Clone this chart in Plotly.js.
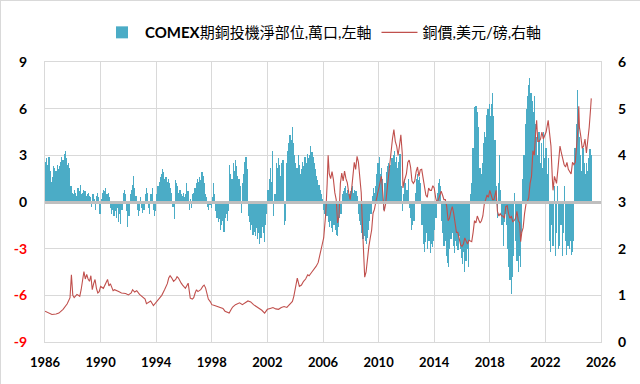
<!DOCTYPE html>
<html>
<head>
<meta charset="utf-8">
<script src="https://cdn.plot.ly/plotly-3.0.1.min.js"></script>
<style>
  html, body { margin: 0; padding: 0; background: #fff; }
  #chart { width: 640px; height: 384px; box-sizing: border-box; border: 1px solid #d9d9d9; }
</style>
</head>
<body>
<div id="chart"></div>
<script>
// COMEX copper speculative net position (10k contracts), monthly from Jan 1986
const startYear = 1986;
const netPosition = [
  2.6, 2.8, 2.4, 2.9, 2.0, 1.3, 1.6, 2.3, 2.2, 2.0, 2.4, 2.1,      // 1986
  2.3, 2.6, 2.9, 2.7, 3.1, 3.3, 2.8, 2.4, 2.5, 2.2, 1.0, 0.6,      // 1987
  0.5, 0.8, 0.6, 0.4, 0.9, 0.7, 1.1, 0.5, 0.6, 0.8, 0.7, 0.4,      // 1988
  0.5, 0.6, 0.4, 0.3, -0.3, 0.5, 0.2, -0.5, 0.4, 0.6, 0.3, -0.8,   // 1989
  0.2, 0.6, 0.8, 0.7, 0.9, 0.5, 0.6, 0.3, -0.4, -0.8, -0.5, -0.9,  // 1990
  -0.6, -1.0, -0.4, -1.3, -0.8, -1.4, -0.5, 0.6, 0.8, 0.5, -0.6, -1.6, // 1991
  -0.9, 0.5, 0.8, 1.1, 1.7, 0.9, 0.4, -0.5, -0.9, -0.6, 0.3, -0.4, // 1992
  -0.7, -0.5, 0.5, 0.9, 0.6, -0.4, -0.8, 0.5, 0.9, -0.5, -0.9, -0.6, // 1993
  0.5, 1.0, 1.3, 1.6, 1.8, 2.1, 1.9, 1.5, 1.6, 1.3, 1.5, 1.2,      // 1994
  0.9, 0.6, -0.3, -1.1, 1.4, 1.2, 1.0, 0.6, 0.8, 0.5, 0.4, 0.6,    // 1995
  0.3, 0.5, 1.2, 0.7, -0.5, 0.2, -0.4, 0.5, 0.6, 0.9, 1.2, 1.5,    // 1996
  1.3, 1.6, 1.4, 1.9, 1.7, 1.2, 0.5, 0.3, -0.3, -0.5, -0.2, -0.4,  // 1997
  0.3, 1.2, 0.5, -0.6, -1.0, -1.3, -1.1, -1.8, -1.5, -1.2, -1.9, -1.0, // 1998
  -0.8, -1.2, -0.6, 2.4, 1.8, 1.5, 2.5, 2.0, 2.7, 2.3, 1.7, 1.5,   // 1999
  1.0, -0.7, 1.2, 1.8, 2.6, 2.9, 2.1, -0.9, -1.3, -1.8, -1.5, -2.1, // 2000
  -1.9, -2.2, -1.7, -2.4, -2.0, -2.7, -2.3, -1.6, -2.0, -2.6, -1.5, -0.8, // 2001
  0.8, 1.5, 2.2, 1.3, 3.3, -0.9, 0.5, 2.5, 2.2, 2.8, 2.4, 1.7,     // 2002
  2.5, 2.7, -1.5, -1.2, 2.5, 3.3, 3.8, 4.3, 4.0, 4.85, 3.8, 3.0,   // 2003
  2.5, 2.2, 3.0, 2.4, 1.8, 2.1, 2.6, 2.3, 2.9, 2.5, 3.1, 2.8,      // 2004
  3.0, 3.6, 3.2, 2.9, 2.5, 2.1, 1.7, 1.4, 1.1, 0.8, 0.5, 0.2,      // 2005
  -0.5, -0.8, -1.0, -0.9, -1.3, -1.6, -1.2, -1.7, -1.9, -1.5, -1.8, -2.1, // 2006
  -2.2, -1.6, -1.0, -0.8, 0.5, 0.7, 0.9, 1.0, 0.6, 0.8, 0.5, 0.7,  // 2007
  0.9, 1.0, 0.6, 0.8, 0.7, 0.4, -0.8, -1.2, -1.5, -2.0, -2.4, -2.2, // 2008
  -2.5, -2.7, -2.3, -1.8, -1.2, -0.8, 0.4, 0.9, 0.6, 1.0, 1.8, 2.5, // 2009
  2.9, 1.8, 2.2, 1.5, -0.5, 1.2, 1.9, 2.3, 2.5, 2.1, 2.4, 2.8,     // 2010
  3.0, 3.3, 2.6, 2.9, 2.2, 2.6, 3.1, 1.0, -0.6, 0.5, 1.5, 1.2,     // 2011
  0.8, 1.5, -0.4, -1.0, -1.8, -1.5, -1.2, 0.6, 1.5, 1.8, 1.4, 1.6, // 2012
  1.2, -1.5, -2.7, -3.2, -2.6, -2.0, -3.0, -2.5, -3.3, -2.7, -2.9, -2.5, // 2013
  -1.8, -1.0, 0.6, 1.2, 1.5, 1.0, -1.2, -2.0, -2.8, -2.5, -3.5, -3.9, // 2014
  -4.2, -3.0, -2.4, -2.0, -2.8, -3.3, -2.5, -2.8, -3.1, -2.2, -3.0, -3.6, // 2015
  -4.0, -3.2, -4.5, -3.8, -3.0, -4.2, -2.5, 0.5, 1.2, 3.5, 6.1, 6.2, // 2016
  6.2, 5.8, 4.8, 2.2, 1.8, 2.5, 3.8, 4.5, 4.2, 5.6, 6.0, 6.3,      // 2017
  5.5, 6.3, 7.0, 5.5, 4.0, 1.0, -1.0, 1.2, 3.0, 0.8, -1.5, -2.8,   // 2018
  -1.3, -0.8, -1.5, -3.0, -4.2, -5.0, -5.9, -4.8, -3.5, 0.6, -2.5, -3.8, // 2019
  -4.5, -3.5, -4.2, -2.0, 1.5, 3.0, 5.0, 6.0, 6.8, 7.5, 8.0, 7.0,  // 2020
  6.5, 5.8, 6.8, 5.0, 4.2, 3.0, 4.5, 2.5, 3.8, 2.2, 4.5, 2.8,      // 2021
  3.5, 1.8, 2.8, -2.5, -3.2, -1.5, -2.8, 1.0, -3.5, -2.0, 1.0, -3.0, // 2022
  -2.8, -1.5, -3.5, -2.0, 1.0, -2.5, -3.4, -2.8, -3.0, -2.5, -3.4, -3.2, // 2023
  -2.5, 3.5, 5.0, 7.2, 6.0, 4.2, 3.0, 2.0, 3.5, 2.5, 1.8, 2.5,     // 2024
  2.0, 2.8, 3.4, 3.0                                               // 2025
];

// Copper price (USD/lb): decimal-year time and value
const priceTime = [
  1986.0, 1986.2, 1986.5, 1986.8, 1987.0, 1987.3, 1987.6, 1987.8, 1987.9, 1988.0, 1988.1, 1988.3, 1988.5, 1988.6, 1988.8, 1988.9,
  1989.0, 1989.1, 1989.2, 1989.3, 1989.4, 1989.5, 1989.6, 1989.7, 1989.8, 1989.9, 1990.0, 1990.2, 1990.3, 1990.5, 1990.6, 1990.7,
  1990.9, 1991.0, 1991.3, 1991.5, 1991.8, 1992.0, 1992.2, 1992.3, 1992.45, 1992.6, 1992.8, 1993.0, 1993.2, 1993.3, 1993.5, 1993.6,
  1993.8, 1993.9, 1994.0, 1994.2, 1994.4, 1994.6, 1994.8, 1994.9, 1995.0, 1995.1, 1995.25, 1995.4, 1995.5, 1995.6, 1995.7, 1995.8,
  1995.9, 1996.0, 1996.1, 1996.3, 1996.4, 1996.45, 1996.6, 1996.7, 1996.8, 1996.9, 1997.0, 1997.2, 1997.35, 1997.45, 1997.55, 1997.65,
  1997.75, 1997.9, 1998.0, 1998.2, 1998.4, 1998.6, 1998.8, 1998.95, 1999.1, 1999.25, 1999.4, 1999.5, 1999.7, 1999.9, 2000.0, 2000.2,
  2000.4, 2000.6, 2000.8, 2000.9, 2001.0, 2001.2, 2001.4, 2001.6, 2001.8, 2001.9, 2002.0, 2002.2, 2002.4, 2002.6, 2002.8, 2003.0,
  2003.2, 2003.4, 2003.6, 2003.8, 2003.9, 2004.05, 2004.15, 2004.3, 2004.45, 2004.6, 2004.75, 2004.9, 2005.0, 2005.2, 2005.35, 2005.5,
  2005.65, 2005.8, 2005.95, 2006.05, 2006.2, 2006.3, 2006.37, 2006.45, 2006.55, 2006.65, 2006.75, 2006.85, 2006.95, 2007.05, 2007.15, 2007.25,
  2007.35, 2007.45, 2007.55, 2007.65, 2007.75, 2007.85, 2007.95, 2008.05, 2008.15, 2008.25, 2008.35, 2008.45, 2008.55, 2008.65, 2008.75, 2008.85,
  2008.95, 2009.0, 2009.1, 2009.2, 2009.3, 2009.4, 2009.5, 2009.6, 2009.7, 2009.8, 2009.9, 2010.0, 2010.1, 2010.2, 2010.3, 2010.4,
  2010.5, 2010.6, 2010.7, 2010.8, 2010.9, 2011.0, 2011.1, 2011.2, 2011.3, 2011.4, 2011.5, 2011.6, 2011.7, 2011.75, 2011.85, 2012.0,
  2012.1, 2012.2, 2012.3, 2012.4, 2012.5, 2012.6, 2012.7, 2012.8, 2012.9, 2013.0, 2013.1, 2013.2, 2013.3, 2013.4, 2013.5, 2013.6,
  2013.7, 2013.8, 2013.9, 2014.0, 2014.1, 2014.2, 2014.3, 2014.4, 2014.5, 2014.6, 2014.7, 2014.8, 2014.9, 2015.0, 2015.1, 2015.2,
  2015.3, 2015.4, 2015.5, 2015.6, 2015.7, 2015.8, 2015.9, 2016.0, 2016.1, 2016.2, 2016.3, 2016.4, 2016.5, 2016.6, 2016.7, 2016.8,
  2016.9, 2017.0, 2017.1, 2017.2, 2017.3, 2017.4, 2017.5, 2017.6, 2017.7, 2017.8, 2017.9, 2018.0, 2018.1, 2018.2, 2018.3, 2018.4,
  2018.45, 2018.55, 2018.65, 2018.75, 2018.85, 2018.95, 2019.05, 2019.15, 2019.25, 2019.35, 2019.45, 2019.55, 2019.65, 2019.75, 2019.85, 2019.95,
  2020.05, 2020.15, 2020.22, 2020.3, 2020.4, 2020.5, 2020.6, 2020.7, 2020.8, 2020.9, 2021.0, 2021.1, 2021.2, 2021.3, 2021.37, 2021.45,
  2021.55, 2021.65, 2021.75, 2021.85, 2021.95, 2022.05, 2022.2, 2022.3, 2022.4, 2022.5, 2022.55, 2022.65, 2022.8, 2022.9, 2023.0, 2023.05,
  2023.15, 2023.25, 2023.35, 2023.45, 2023.55, 2023.65, 2023.75, 2023.85, 2023.95, 2024.05, 2024.15, 2024.25, 2024.35, 2024.4, 2024.45, 2024.55,
  2024.65, 2024.75, 2024.85, 2024.95, 2025.05, 2025.15, 2025.25, 2025.3
];
const priceValue = [
  0.66, 0.63, 0.59, 0.60, 0.62, 0.70, 0.82, 0.95, 1.44, 1.00, 0.95, 1.02, 0.98, 1.12, 1.51, 1.35,
  1.45, 1.35, 1.30, 1.42, 1.12, 1.25, 1.34, 1.15, 1.05, 1.08, 1.19, 1.15, 1.22, 1.34, 1.20, 1.25,
  1.10, 1.12, 1.08, 1.05, 1.04, 1.01, 1.05, 1.12, 1.07, 1.10, 1.02, 0.96, 0.92, 0.82, 0.86, 0.88,
  0.78, 0.82, 0.86, 0.92, 1.00, 1.12, 1.25, 1.37, 1.42, 1.38, 1.30, 1.34, 1.40, 1.37, 1.30, 1.26,
  1.22, 1.19, 1.15, 1.26, 1.05, 0.94, 0.92, 0.95, 1.05, 1.12, 1.08, 1.12, 1.19, 1.22, 1.16, 1.00,
  0.92, 0.86, 0.80, 0.78, 0.76, 0.73, 0.72, 0.66, 0.64, 0.62, 0.70, 0.75, 0.80, 0.82, 0.84, 0.80,
  0.84, 0.88, 0.86, 0.82, 0.80, 0.76, 0.72, 0.68, 0.62, 0.66, 0.70, 0.72, 0.74, 0.71, 0.70, 0.74,
  0.76, 0.74, 0.80, 0.87, 0.98, 1.20, 1.37, 1.19, 1.22, 1.30, 1.35, 1.44, 1.42, 1.50, 1.55, 1.62,
  1.70, 1.94, 2.10, 2.23, 2.76, 3.40, 4.00, 3.60, 3.50, 3.65, 3.48, 3.20, 3.05, 2.55, 2.70, 3.40,
  3.62, 3.45, 3.66, 3.50, 3.41, 3.20, 3.05, 3.25, 3.62, 3.85, 3.70, 3.98, 3.85, 3.50, 3.20, 2.40,
  1.45, 1.39, 1.50, 1.84, 2.05, 2.23, 2.40, 2.76, 2.84, 3.00, 3.15, 3.30, 3.40, 3.55, 3.20, 2.80,
  2.95, 3.25, 3.40, 3.75, 4.05, 4.36, 4.55, 4.30, 4.20, 4.00, 4.20, 4.44, 4.05, 3.30, 3.45, 3.60,
  3.85, 3.90, 3.75, 3.45, 3.40, 3.45, 3.65, 3.75, 3.55, 3.69, 3.70, 3.50, 3.30, 3.15, 3.10, 3.30,
  3.25, 3.25, 3.35, 3.30, 3.10, 2.98, 3.05, 3.12, 3.23, 3.15, 3.05, 3.05, 2.90, 2.60, 2.65, 2.80,
  2.90, 2.76, 2.55, 2.35, 2.35, 2.20, 2.08, 2.05, 2.10, 2.23, 2.15, 2.10, 2.18, 2.16, 2.15, 2.35,
  2.60, 2.55, 2.70, 2.62, 2.55, 2.60, 2.70, 2.95, 3.05, 3.15, 3.10, 3.25, 3.15, 3.05, 3.05, 3.15,
  3.25, 2.80, 2.70, 2.75, 2.70, 2.70, 2.65, 2.90, 2.92, 2.75, 2.65, 2.70, 2.58, 2.60, 2.65, 2.80,
  2.60, 2.55, 2.15, 2.35, 2.45, 2.75, 2.95, 3.00, 3.10, 3.40, 3.55, 4.10, 4.00, 4.50, 4.75, 4.30,
  4.30, 4.35, 4.50, 4.35, 4.45, 4.50, 4.75, 4.40, 4.20, 3.50, 3.25, 3.55, 3.40, 3.70, 3.95, 4.20,
  4.05, 3.90, 3.80, 3.75, 3.85, 3.70, 3.65, 3.60, 3.85, 3.80, 3.85, 4.20, 4.60, 5.05, 4.60, 4.40,
  4.15, 4.20, 4.35, 4.05, 4.30, 4.60, 5.00, 5.22
];

const leftTicks = [-9, -6, -3, 0, 3, 6, 9];
const rightTicks = [0, 1, 2, 3, 4, 5, 6];
const xTicks = [1986, 1990, 1994, 1998, 2002, 2006, 2010, 2014, 2018, 2022, 2026];

const seriesNames = ['<b>COMEX</b>期銅投機淨部位,萬口,左軸', '銅價,美元/磅,右軸'];

// bar x positions: middle of each month
const barX = netPosition.map((v, i) => startYear + (i + 0.5) / 12);
const barW = netPosition.map(() => 1 / 12);

const leftText = leftTicks.map(v => v < 0
  ? '<span style="color:#ff0000">' + v + '</span>' : String(v));

const fontFam = 'Lato, "Noto Sans CJK TC", sans-serif';

const data = [
  {
    type: 'bar', name: seriesNames[0], x: barX, y: netPosition, width: barW,
    marker: { color: '#4bacc6', line: { width: 0 } }, yaxis: 'y'
  },
  {
    type: 'scatter', mode: 'lines', name: seriesNames[1], x: priceTime, y: priceValue,
    line: { color: '#c0504d', width: 1.1 }, yaxis: 'y2'
  }
];

const layout = {
  width: 640, height: 384,
  margin: { l: 44, r: 40, t: 61, b: 43 },
  paper_bgcolor: '#ffffff', plot_bgcolor: '#ffffff',
  bargap: 0,
  showlegend: true,
  legend: {
    orientation: 'h', x: 0.5, xanchor: 'center', y: 1.105, yanchor: 'middle',
    font: { family: fontFam, size: 15, color: '#000' },
    itemwidth: 36, traceorder: 'normal', tracegroupgap: 0
  },
  font: { family: fontFam, color: '#000' },
  xaxis: {
    range: [1986, 2026], tickvals: xTicks, ticktext: xTicks.map(String),
    showgrid: true, gridcolor: '#d9d9d9', gridwidth: 1,
    showline: true, mirror: true, linecolor: '#d9d9d9', linewidth: 1,
    ticks: '', ticklabelstandoff: 8, zeroline: false,
    tickfont: { family: fontFam, size: 13, color: '#000', weight: 'bold' }
  },
  yaxis: {
    range: [-9, 9], tickvals: leftTicks, ticktext: leftText,
    showgrid: true, gridcolor: '#d9d9d9', gridwidth: 1,
    showline: true, mirror: true, linecolor: '#d9d9d9', linewidth: 1,
    zeroline: true, zerolinecolor: '#bfbfbf', zerolinewidth: 3, zerolinelayer: 'above traces',
    ticks: '', ticklabelstandoff: 14,
    tickfont: { family: fontFam, size: 14, color: '#000', weight: 'bold' }
  },
  yaxis2: {
    range: [0, 6], tickvals: rightTicks, overlaying: 'y', side: 'right',
    showgrid: false, zeroline: false, showline: false,
    ticks: '', ticklabelstandoff: 16,
    tickfont: { family: fontFam, size: 14, color: '#000', weight: 'bold' }
  }
};

Plotly.newPlot('chart', data, layout, { displayModeBar: false, staticPlot: true });
</script>
</body>
</html>
